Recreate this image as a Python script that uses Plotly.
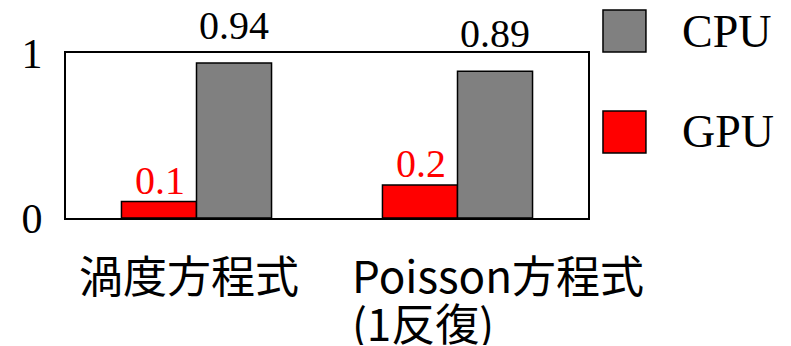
import plotly.graph_objects as go

# Data
categories = ["渦度方程式", "Poisson方程式<br>(1反復)"]
gpu_values = [0.1, 0.2]
cpu_values = [0.94, 0.89]
series_names = ["CPU", "GPU"]
series_colors = {"CPU": "#808080", "GPU": "#FF0000"}
y_tick_values = [0, 1]
y_tick_labels = ["0", "1"]

SERIF = "Liberation Serif, Times New Roman, serif"
JP = "Noto Sans CJK JP, sans-serif"

fig = go.Figure()

series = {"GPU": gpu_values, "CPU": cpu_values}
for name in ["GPU", "CPU"]:
    fig.add_trace(go.Bar(
        x=categories,
        y=series[name],
        name=name,
        marker=dict(color=series_colors[name], line=dict(color="black", width=1.5)),
        showlegend=False,
        cliponaxis=False,
    ))

# Value labels above each bar
label_style = {
    "GPU": dict(color="#FF0000", yshift=-3, xshift=-37),
    "CPU": dict(color="black", yshift=13, xshift=37),
}
for name in ["GPU", "CPU"]:
    st = label_style[name]
    for cat, v in zip(categories, series[name]):
        fig.add_annotation(
            x=cat, y=v, xref="x", yref="y",
            text=f"{v:g}", showarrow=False,
            xanchor="center", yanchor="bottom",
            xshift=st["xshift"], yshift=st["yshift"],
            font=dict(family=SERIF, size=40, color=st["color"]),
        )

# Category labels below the axis (one annotation per text line for tight spacing)
cat_positions = [(0.2356, "center"), (0.544, "left")]
line_y = [-0.339, -0.63]
for (px, anchor), cat in zip(cat_positions, categories):
    for i, line in enumerate(cat.split("<br>")):
        fig.add_annotation(
            x=px, y=line_y[i], xref="paper", yref="paper",
            text=line, showarrow=False, xanchor=anchor, yanchor="middle",
            height=46,
            font=dict(family=JP, size=44, color="black"),
        )

# Legend: large swatches with labels to the right of the plot
legend_rows = {"CPU": (1.006, 1.2606), "GPU": (0.394, 0.6485)}
for name in series_names:
    y0, y1 = legend_rows[name]
    fig.add_shape(
        type="rect", xref="paper", yref="paper",
        x0=1.0287, x1=1.111, y0=y0, y1=y1,
        fillcolor=series_colors[name], line=dict(color="black", width=1.5),
    )
    fig.add_annotation(
        x=1.176, y=(y0 + y1) / 2, xref="paper", yref="paper",
        text=name, showarrow=False, xanchor="left", yanchor="middle",
        font=dict(family=SERIF, size=46, color="black"),
    )

fig.update_layout(
    width=791, height=346,
    margin=dict(l=66, r=203, t=53, b=128),
    paper_bgcolor="white", plot_bgcolor="white",
    barmode="group", bargap=0.425, bargroupgap=0,
    showlegend=False,
)
fig.update_xaxes(
    showticklabels=False, showgrid=False, zeroline=False,
    showline=True, linecolor="black", linewidth=2, mirror=True, ticks="",
)
fig.update_yaxes(
    range=[0, 1], tickvals=y_tick_values, ticktext=y_tick_labels,
    showgrid=False, zeroline=False,
    showline=True, linecolor="black", linewidth=2, mirror=True, ticks="",
    ticklabelstandoff=13,
    tickfont=dict(family=SERIF, size=42, color="black"),
)

fig.write_html("out.html")
